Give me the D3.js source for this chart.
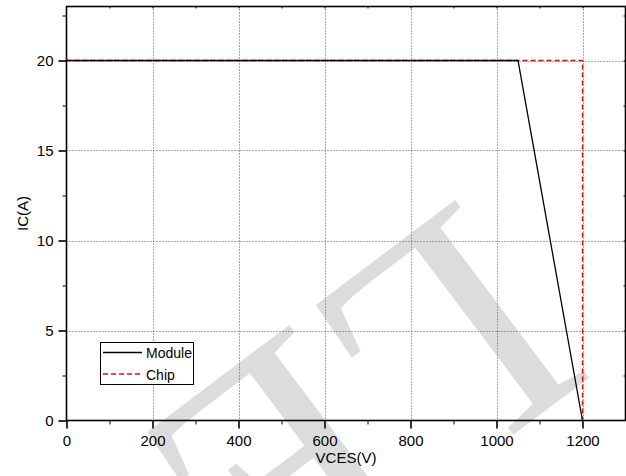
<!DOCTYPE html>
<html>
<head>
<meta charset="utf-8">
<script src="https://cdn.jsdelivr.net/npm/d3@7"></script>
<style>
  html, body { margin: 0; padding: 0; background: #fff; }
  svg { display: block; }
  text { font-family: Arial, "Liberation Sans", sans-serif; fill: #000; }
</style>
</head>
<body>
<svg id="chart" width="626" height="476"></svg>
<script>
// ---- data ----
const moduleV = [0, 1050, 1200];
const moduleI = [20, 20, 0];
const chipV = [0, 1200, 1200];
const chipI = [20, 20, 0];
const xTicks = [0, 200, 400, 600, 800, 1000, 1200];
const xMinor = [100, 300, 500, 700, 900, 1100, 1300];
const yTicks = [0, 5, 10, 15, 20];
const yMinor = [2.5, 7.5, 12.5, 17.5, 22.5];
const seriesNames = ["Module", "Chip"];
const xLabel = "VCES(V)";
const yLabel = "IC(A)";
const watermark = "LE";

// ---- layout ----
const svg = d3.select("#chart");
const x = d3.scaleLinear().domain([0, 1300]).range([66.5, 625.5]);
const y = d3.scaleLinear().domain([0, 23]).range([420.5, 6.5]);
const X0 = x.range()[0], X1 = x.range()[1], Y0 = y.range()[0], Y1 = y.range()[1];

// watermark (behind everything)
svg.append("text")
  .attr("transform", "translate(463,194) rotate(143)")
  .attr("text-anchor", "start")
  .style("font-family", "'Liberation Serif', 'DejaVu Serif', serif")
  .style("font-size", "340px")
  .style("fill", "#dcdcdc")
  .text(watermark);

// grid
const grid = svg.append("g").attr("stroke", "#555").attr("stroke-width", 1).attr("stroke-dasharray", "1,2");
grid.selectAll("line.vx").data(xTicks.filter(d => d > 0)).join("line")
  .attr("x1", d => Math.round(x(d)) + 0.5).attr("x2", d => Math.round(x(d)) + 0.5)
  .attr("y1", Y1).attr("y2", Y0);
grid.selectAll("line.hy").data(yTicks.filter(d => d > 0)).join("line")
  .attr("x1", X0).attr("x2", X1)
  .attr("y1", d => Math.round(y(d)) + 0.5).attr("y2", d => Math.round(y(d)) + 0.5);

// lines
const line = d3.line().x(d => x(d[0])).y(d => y(d[1]));
svg.append("path")
  .datum(chipV.map((v, i) => [v, chipI[i]]))
  .attr("d", line).attr("fill", "none")
  .attr("stroke", "#ff0000").attr("stroke-width", 1.3).attr("stroke-dasharray", "5,3");
svg.append("path")
  .datum(moduleV.map((v, i) => [v, moduleI[i]]))
  .attr("d", line).attr("fill", "none")
  .attr("stroke", "#000").attr("stroke-width", 1.3);

// frame
svg.append("rect").attr("x", X0).attr("y", Y1).attr("width", X1 - X0).attr("height", Y0 - Y1)
  .attr("fill", "none").attr("stroke", "#000").attr("stroke-width", 1.6);

// axes
const fontSize = "15px";
const xAxis = svg.append("g").attr("transform", `translate(0,${Y0})`)
  .call(d3.axisBottom(x).tickValues(xTicks).tickSize(8).tickPadding(7).tickFormat(d3.format("d")));
xAxis.select(".domain").remove();
xAxis.selectAll(".tick line").attr("stroke-width", 1.6);
xAxis.selectAll("text").style("font-size", fontSize).style("font-family", "Arial, 'Liberation Sans', sans-serif");

const yAxis = svg.append("g").attr("transform", `translate(${X0},0)`)
  .call(d3.axisLeft(y).tickValues(yTicks).tickSize(8).tickPadding(5).tickFormat(d3.format("d")));
yAxis.select(".domain").remove();
yAxis.selectAll(".tick line").attr("stroke-width", 1.6);
yAxis.selectAll("text").style("font-size", fontSize).style("font-family", "Arial, 'Liberation Sans', sans-serif");

// minor ticks (bottom / left outward, top / right inward)
const xm = svg.append("g").attr("transform", `translate(0,${Y0})`)
  .call(d3.axisBottom(x).tickValues(xMinor.filter(d => d < 1300)).tickSize(4).tickFormat(""));
xm.select(".domain").remove();
const ym = svg.append("g").attr("transform", `translate(${X0},0)`)
  .call(d3.axisLeft(y).tickValues(yMinor).tickSize(4).tickFormat(""));
ym.select(".domain").remove();
const xt = svg.append("g").attr("transform", `translate(0,${Y1})`)
  .call(d3.axisBottom(x).tickValues(xTicks.concat(xMinor).filter(d => d > 0 && d < 1300)).tickSize(2).tickFormat(""));
xt.select(".domain").remove();
const yr = svg.append("g").attr("transform", `translate(${X1},0)`)
  .call(d3.axisLeft(y).tickValues(yTicks.concat(yMinor).filter(d => d > 0)).tickSize(2).tickFormat(""));
yr.select(".domain").remove();

// axis labels
svg.append("text").attr("x", (X0 + X1) / 2).attr("y", 463)
  .attr("text-anchor", "middle").style("font-size", fontSize).text(xLabel);
svg.append("text").attr("transform", `translate(28,${(Y0 + Y1) / 2}) rotate(-90)`)
  .attr("text-anchor", "middle").style("font-size", fontSize).text(yLabel);

// legend
const lg = svg.append("g");
lg.append("rect").attr("x", 100.5).attr("y", 342.5).attr("width", 93).attr("height", 42)
  .attr("fill", "#fff").attr("stroke", "#000").attr("stroke-width", 1);
const legStyles = [
  { color: "#000", dash: null },
  { color: "#ff0000", dash: "5,3" }
];
seriesNames.forEach((name, i) => {
  const yy = 352.5 + i * 21.5;
  lg.append("line").attr("x1", 103).attr("x2", 142).attr("y1", yy).attr("y2", yy)
    .attr("stroke", legStyles[i].color).attr("stroke-width", 1.3)
    .attr("stroke-dasharray", legStyles[i].dash);
  lg.append("text").attr("x", 146).attr("y", yy + 5.5)
    .style("font-size", "14px").text(name);
});
</script>
</body>
</html>
